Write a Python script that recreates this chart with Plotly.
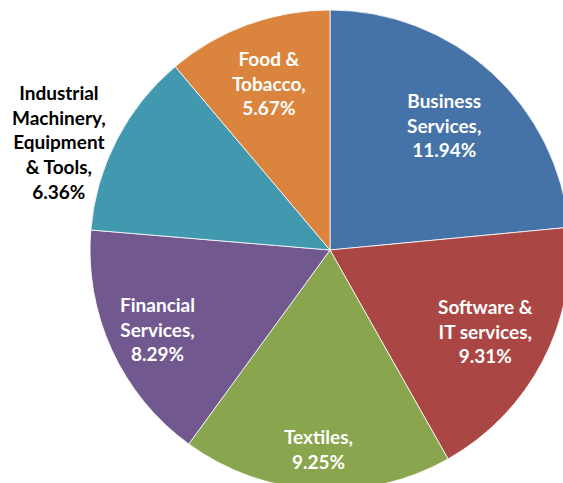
import math
import plotly.graph_objects as go

# Sector shares of the total (percent)
sectors = [
    "Business<br>Services",
    "Software &<br>IT services",
    "Textiles",
    "Financial<br>Services",
    "Industrial<br>Machinery,<br>Equipment<br>& Tools",
    "Food &<br>Tobacco",
]
shares = [11.94, 9.31, 9.25, 8.29, 6.36, 5.67]
colors = ["#4572A7", "#AA4643", "#89A54E", "#71588F", "#4198AF", "#DB843D"]
# data label placement: radius as a fraction of the pie radius, and a
# small angular nudge (degrees) from the slice's mid-angle
label_radius = [0.705, 0.73, 0.83, 0.79, 1.215, 0.74]
label_nudge = [0, 0, 0, 0, -5.6, 0]
label_colors = ["white", "white", "white", "white", "black", "white"]

W, H = 570, 490
R = 240
cx, cy = 330, 250

fig = go.Figure(
    go.Pie(
        labels=sectors,
        values=shares,
        sort=False,
        direction="clockwise",
        rotation=0,
        marker=dict(colors=colors, line=dict(color="white", width=0.8)),
        textinfo="none",
        domain=dict(x=[(cx - R) / W, (cx + R) / W], y=[1 - (cy + R) / H, 1 - (cy - R) / H]),
        showlegend=False,
        hoverinfo="skip",
    )
)

# Data labels placed along each slice's mid-angle (clockwise from 12 o'clock)
total = sum(shares)
start = 0.0
for name, val, frac, nudge, col in zip(sectors, shares, label_radius, label_nudge, label_colors):
    span = 360.0 * val / total
    mid = math.radians(start + span / 2 + nudge)
    start += span
    px = cx + frac * R * math.sin(mid)
    py = cy - frac * R * math.cos(mid)
    fig.add_annotation(
        x=px / W,
        y=1 - py / H,
        xref="paper",
        yref="paper",
        text=f"{name},<br>{val:.2f}%",
        showarrow=False,
        xanchor="center",
        yanchor="middle",
        align="center",
        font=dict(family="Lato", size=19, color=col, weight="bold"),
    )

fig.update_layout(
    width=W,
    height=H,
    margin=dict(l=0, r=0, t=0, b=0),
    paper_bgcolor="white",
    plot_bgcolor="white",
)

fig.write_html("out.html", post_script="document.body.style.overflow='hidden';")
